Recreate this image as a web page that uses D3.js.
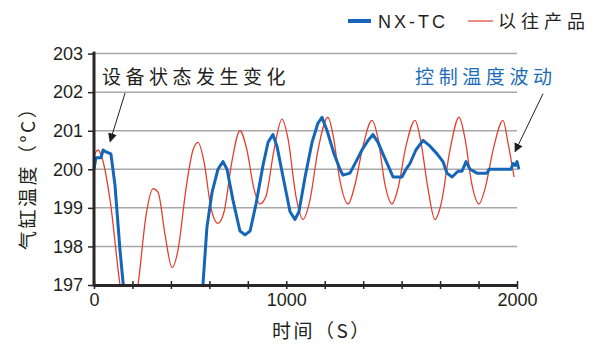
<!DOCTYPE html>
<html>
<head>
<meta charset="utf-8">
<script src="https://cdn.jsdelivr.net/npm/d3@7"></script>
<style>
  body { margin: 0; background: #fff; }
  text { fill: #231f20; }
</style>
</head>
<body>
<div id="chart"></div>
<script>
// DATA
const yTicks = [197, 198, 199, 200, 201, 202, 203];
const xTickCount = 11;                         // 11 equal tick gaps on the x axis
const xTickLabels = { 0: "0", 5: "1000", 11: "2000" };

// old product (red, thin)
const oldTime = [0, 19, 38, 76, 123, 161, 208, 246, 279, 303, 336, 369, 397, 435, 468, 492,
  520, 553, 586, 615, 652, 690, 723, 756, 785, 813, 851, 889, 917, 955, 988, 1021, 1059,
  1106, 1130, 1163, 1201, 1234, 1272, 1314, 1343, 1376, 1409, 1437, 1475, 1518, 1546, 1579,
  1612, 1641, 1683, 1726, 1754, 1787, 1820, 1849, 1891, 1934, 1957, 1986];
const oldTemp = [200.35, 200.5, 200.3, 199.2, 197.0, 195.8, 197.0, 198.8, 199.5, 199.4, 198.3,
  197.45, 197.9, 199.5, 200.5, 200.7, 200.2, 199.0, 198.6, 198.9, 200.2, 201.0, 200.5, 199.5,
  199.1, 199.3, 200.5, 201.3, 200.8, 199.3, 198.7, 199.2, 200.5, 201.35, 200.9, 199.7, 199.1,
  199.6, 200.6, 201.27, 200.8, 199.6, 199.1, 199.5, 200.6, 201.27, 200.7, 199.5, 198.7, 199.1,
  200.5, 201.35, 200.8, 199.6, 199.1, 199.5, 200.6, 201.27, 200.7, 199.8];

// NX-TC (blue, thick)
const nxTime = [0, 9, 33, 43, 57, 80, 99, 123, 142, 170, 265, 407, 515, 534, 558, 586, 610,
  629, 657, 690, 714, 738, 766, 799, 823, 846, 865, 894, 927, 950, 969, 998, 1031, 1059, 1078,
  1102, 1135, 1163, 1177, 1210, 1239, 1267, 1296, 1319, 1343, 1366, 1390, 1414, 1456, 1475,
  1494, 1522, 1556, 1589, 1622, 1650, 1669, 1693, 1721, 1740, 1759, 1778, 1811, 1858, 1868,
  1972, 1981, 1991, 2000, 2009];
const nxTemp = [200.0, 200.3, 200.3, 200.5, 200.45, 200.4, 199.6, 197.9, 196.8, 195.5, 192.5,
  192.5, 197.0, 198.5, 199.4, 200.0, 200.2, 200.0, 199.2, 198.4, 198.3, 198.4, 199.1, 200.1,
  200.7, 200.9, 200.6, 199.8, 198.9, 198.7, 198.9, 199.8, 200.7, 201.2, 201.35, 201.0, 200.4,
  200.0, 199.85, 199.9, 200.2, 200.5, 200.75, 200.9, 200.7, 200.4, 200.1, 199.8, 199.8, 200.0,
  200.15, 200.5, 200.75, 200.6, 200.4, 200.2, 199.9, 199.8, 199.95, 199.95, 200.2, 200.0,
  199.9, 199.9, 200.0, 200.0, 200.15, 200.1, 200.2, 200.0];

const oldData = oldTime.map((t, i) => ({ t: t, v: oldTemp[i] }));
const nxData = nxTime.map((t, i) => ({ t: t, v: nxTemp[i] }));

// DIMENSIONS
const margin = { top: 53.6, left: 94 };
const width = 423, height = 231.4;

const svg = d3.select('#chart').append('svg')
  .attr('width', 600).attr('height', 354)
  .style('font-family', '"Liberation Sans", Arial, sans-serif');

const g = svg.append('g').attr('transform', `translate(${margin.left},${margin.top})`);

const x = d3.scaleLinear().domain([0, 2000]).range([0, width]);
const y = d3.scaleLinear().domain([197, 203]).range([height, 0]);

// grid
g.selectAll('.grid').data(yTicks).enter().append('line')
  .attr('x1', 0).attr('x2', width)
  .attr('y1', d => y(d)).attr('y2', d => y(d))
  .style('stroke', '#a8a8a8').style('stroke-width', 1.5);

// clip the lines to the plot area
svg.append('defs').append('clipPath').attr('id', 'plotclip')
  .append('rect').attr('x', -2).attr('y', -2).attr('width', width + 6).attr('height', height + 2);

const line = d3.line().x(d => x(d.t)).y(d => y(d.v));

g.append('path').datum(oldData)
  .attr('clip-path', 'url(#plotclip)')
  .attr('d', line.curve(d3.curveMonotoneX))
  .style('fill', 'none').style('stroke', '#e2402f').style('stroke-width', 1.3);

g.append('path').datum(nxData)
  .attr('clip-path', 'url(#plotclip)')
  .attr('d', d3.line().x(d => x(d.t)).y(d => y(d.v)))
  .style('fill', 'none').style('stroke', '#1565b8').style('stroke-width', 3)
  .style('stroke-linejoin', 'round');

// axes
const yAxis = g.append('g')
  .call(d3.axisLeft(y).tickValues(yTicks).tickFormat(d3.format('d'))
    .tickSizeInner(6).tickSizeOuter(0).tickPadding(5));
yAxis.select('.domain').style('stroke', '#2a2526').style('stroke-width', 3)
  .attr('d', `M0,${-2}V${height + 1.5}`);
yAxis.selectAll('.tick line').style('stroke', '#2a2526').style('stroke-width', 1.5);
yAxis.selectAll('.tick text').style('font-size', '18px').style('fill', '#231f20');

const xTickVals = d3.range(xTickCount + 1).map(i => i * 2000 / xTickCount);
const xAxis = g.append('g').attr('transform', `translate(0,${height})`)
  .call(d3.axisBottom(x).tickValues(xTickVals).tickSizeInner(4).tickSizeOuter(0).tickPadding(4)
    .tickFormat((d, i) => xTickLabels[i] || ''));
xAxis.select('.domain').style('stroke', '#2a2526').style('stroke-width', 3);
xAxis.selectAll('.tick line').attr('y1', -4).style('stroke', '#2a2526').style('stroke-width', 1.5);
xAxis.selectAll('.tick text').style('font-size', '18px').style('fill', '#231f20');

// axis titles
const cjk = '"Noto Sans CJK SC", "Noto Sans", sans-serif';
svg.append('text')
  .attr('x', 272).attr('y', 338)
  .style('font-family', cjk).style('font-size', '19px').style('letter-spacing', '2.5px')
  .text('时间（S）');

svg.append('text')
  .attr('transform', 'translate(35,250) rotate(-90)')
  .style('font-family', cjk).style('font-size', '19px').style('letter-spacing', '2.5px')
  .text('气缸温度（°C）');

// legend
const legend = svg.append('g');
legend.append('line').attr('x1', 348).attr('x2', 371).attr('y1', 21).attr('y2', 21)
  .style('stroke', '#1565b8').style('stroke-width', 4);
legend.append('text').attr('x', 378).attr('y', 27.5)
  .style('font-size', '18px').style('letter-spacing', '3px').text('NX-TC');
legend.append('line').attr('x1', 468).attr('x2', 493).attr('y1', 21).attr('y2', 21)
  .style('stroke', '#e2402f').style('stroke-width', 1.2);
legend.append('text').attr('x', 498).attr('y', 27.5)
  .style('font-family', cjk).style('font-size', '18px').style('letter-spacing', '5px')
  .text('以往产品');

// annotations
svg.append('defs').append('marker').attr('id', 'arrow')
  .attr('viewBox', '0 0 10 10').attr('refX', 9).attr('refY', 5)
  .attr('markerWidth', 9).attr('markerHeight', 9).attr('markerUnits', 'userSpaceOnUse')
  .attr('orient', 'auto')
  .append('path').attr('d', 'M0,0L10,5L0,10Z').style('fill', '#231f20');

g.append('text')
  .attr('x', x(38)).attr('y', y(202.2))
  .style('font-family', cjk).style('font-size', '19px').style('letter-spacing', '4.5px')
  .text('设备状态发生变化');
g.append('line')
  .attr('x1', x(147)).attr('y1', y(201.98)).attr('x2', x(76)).attr('y2', y(200.72))
  .style('stroke', '#231f20').style('stroke-width', 1).attr('marker-end', 'url(#arrow)');

g.append('text')
  .attr('x', x(1518)).attr('y', y(202.2))
  .style('font-family', cjk).style('font-size', '19px').style('letter-spacing', '4.6px')
  .style('fill', '#1a6cb8')
  .text('控制温度波动');
g.append('line')
  .attr('x1', x(2123)).attr('y1', y(201.96)).attr('x2', x(1991)).attr('y2', y(200.46))
  .style('stroke', '#231f20').style('stroke-width', 1).attr('marker-end', 'url(#arrow)');
</script>
</body>
</html>
